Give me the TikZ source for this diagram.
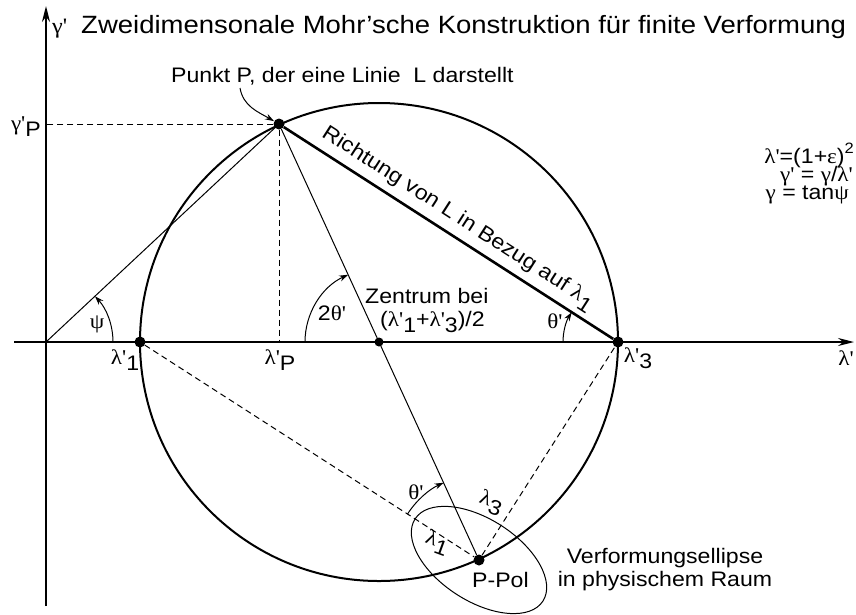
\documentclass[tikz,border=0pt]{standalone}
\usepackage{fontspec}
\setmainfont{Liberation Sans}[FakeStretch=1.1]
\newfontfamily\grk{Liberation Serif}[FakeStretch=1.1]
\usetikzlibrary{arrows.meta}
\newcommand\lo[1]{\raisebox{-0.3em}{#1}}
\begin{document}
\begin{tikzpicture}[x=1pt,y=1pt,
  axis/.style={line width=1.8pt,-{Stealth[length=16pt,width=8pt]}},
  dot/.style={circle,fill,inner sep=0pt,minimum size=11pt},
  thinl/.style={line width=1pt},
  thickl/.style={line width=2.6pt},
  dsh/.style={line width=1pt,dash pattern=on 6pt off 4pt},
  arcarrow/.style={line width=1pt,-{Stealth[length=9pt,width=6pt]}},
  lbl/.style={font=\fontsize{21}{23}\selectfont,inner sep=0pt},
  frm/.style={font=\fontsize{21}{23}\selectfont,inner sep=0pt,anchor=base east}]
\useasboundingbox (0,0) rectangle (856,-614);
% coordinates
\coordinate (O) at (46,-342);
\coordinate (ybot) at (46,-606);
\coordinate (ytop) at (46,-6);
\coordinate (xl) at (14,-342);
\coordinate (xr) at (854,-342);
\coordinate (gP) at (46,-124);
\coordinate (lP) at (279,-342);
\coordinate (pa) at (240,-88);
% dots
\node[dot] (L1) at (140,-342) {};
\node[dot,minimum size=9pt] (C) at (379,-342) {};
\node[dot] (L3) at (618,-342) {};
\node[dot] (P) at (279,-124) {};
\node[dot] (PP) at (479,-560) {};
% axes
\draw[axis] (ybot) -- (ytop);
\draw[axis] (xl) -- (xr);
% circle
\draw[line width=2pt] (C.center) circle[radius=239pt];
% lines
\draw[thinl] (O) -- (P);
\draw[thinl] (P) -- (PP);
\draw[thickl] (P) -- (L3) node[midway,sloped,above=5pt,lbl] {Richtung von L in Bezug auf {\grk λ}\lo{1}};
\draw[dsh] (P) -- (gP);
\draw[dsh] (P) -- (lP);
\draw[dsh] (L1) -- (PP);
\draw[dsh] (PP) -- (L3);
% ellipse
\draw[thinl,rotate around={-32.7:(PP.center)}] (PP.center) ellipse[x radius=76pt,y radius=41pt];
% angle arcs
\draw[arcarrow] ([shift={(0:67pt)}]O) arc[start angle=0,end angle=43.1,radius=67pt];
\draw[arcarrow] ([shift={(180:74pt)}]C.center) arc[start angle=180,end angle=114.6,radius=74pt];
\draw[arcarrow] ([shift={(180:55pt)}]L3.center) arc[start angle=180,end angle=147.3,radius=55pt];
\draw[arcarrow] ([shift={(147.3:85pt)}]PP.center) arc[start angle=147.3,end angle=114.6,radius=85pt];
\draw[arcarrow] (pa) to[out=-80,in=150] (P);
% texts
\node[anchor=base west,font=\fontsize{22}{24}\selectfont,inner sep=0pt] (gtop) at (52,-33) {\grk γ'};
\node[anchor=base west,font=\fontsize{25}{28}\selectfont,inner sep=0pt] (title) at (81,-33) {Zweidimensonale Mohr’sche Konstruktion für finite Verformung};
\node[lbl,anchor=base west] (pt) at (171,-82) {Punkt P, der eine Linie\ \ L darstellt};
\node[lbl,anchor=base east] (gpl) at (41,-130) {{\grk γ'}\lo{P}};
\node[lbl] (l1l) at (125,-360) {{\grk λ'}\lo{1}};
\node[lbl] (lpl) at (280,-360) {{\grk λ'}\lo{P}};
\node[lbl] (l3l) at (638,-358) {{\grk λ'}\lo{3}};
\node[lbl] (lxl) at (846,-358) {\grk λ'};
\node[lbl] (psi) at (97,-324) {\grk ψ};
\node[lbl] (tt2) at (332,-313) {2{\grk θ'}};
\node[lbl,anchor=base west] (zen) at (365,-303) {Zentrum bei};
\node[lbl,anchor=base west] (zen2) at (380,-326) {({\grk λ'}\lo{1}+{\grk λ'}\lo{3})/2};
\node[lbl] (th3) at (555,-321) {\grk θ'};
\node[lbl] (thp) at (416,-492) {\grk θ'};
\node[lbl,rotate=-20] (lam3) at (491,-503) {{\grk λ}\lo{3}};
\node[lbl,rotate=-20] (lam1) at (437,-543) {{\grk λ}\lo{1}};
\node[lbl,anchor=base west] (ppol) at (472,-587) {P-Pol};
\node[lbl,align=center,anchor=base] (ve) at (665,-586) {Verformungsellipse\\in physischem Raum};
\node[frm] (f1) at (854,-163) {{\grk λ'}=(1+{\grk ε})\raisebox{0.45em}{\fontsize{15}{16}\selectfont 2}};
\node[frm] (f2) at (853,-181) {{\grk γ'} = {\grk γ}/{\grk λ'}};
\node[frm] (f3) at (849,-199) {{\grk γ} = tan{\grk ψ}};
\end{tikzpicture}
\end{document}
